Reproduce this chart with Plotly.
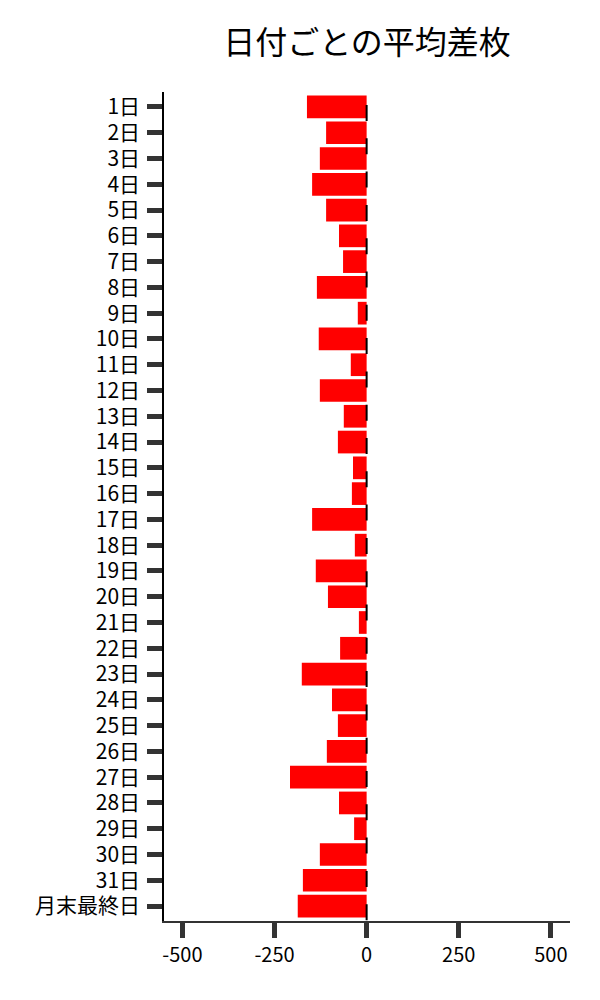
import plotly.graph_objects as go

days = [f"{i}日" for i in range(1, 32)] + ["月末最終日"]
avg_diff = [-162, -110, -127, -148, -110, -75, -64, -135, -24, -130, -43,
            -127, -62, -78, -37, -40, -148, -32, -138, -105, -21,
            -72, -176, -94, -78, -108, -208, -75, -34, -127, -173, -187]
x_ticks = [-500, -250, 0, 250, 500]

FONT = "Noto Sans CJK JP"

fig = go.Figure()
fig.add_trace(go.Bar(
    y=days, x=avg_diff, orientation="h",
    marker=dict(color="#ff0000", line=dict(width=0)),
    width=0.88,
))

fig.add_shape(type="line", xref="x", yref="paper",
              x0=0, x1=0, y0=0.9843, y1=0,
              line=dict(color="black", width=2, dash="16px,17.3px"))

fig.update_layout(
    width=584, height=984,
    margin=dict(l=156, r=22, t=84, b=71),
    paper_bgcolor="white", plot_bgcolor="white",
    showlegend=False,
    font=dict(family=FONT, color="black", size=20),
    title=dict(text="日付ごとの平均差枚", xref="paper", x=0.5, xanchor="center",
               yref="container", y=0.965, yanchor="middle",
               font=dict(family=FONT, size=32, color="black")),
)
fig.update_xaxes(
    range=[-550, 552], tickvals=x_ticks, ticktext=[str(v) for v in x_ticks],
    showgrid=False, zeroline=False,
    showline=True, linecolor="#333333", linewidth=1.5,
    ticks="outside", ticklen=15, tickwidth=5, tickcolor="#333333",
    tickfont=dict(family=FONT, size=20, color="black"),
    ticklabelstandoff=0,
)
fig.update_yaxes(
    type="category", categoryorder="array", categoryarray=days,
    range=[31.58, -0.58],
    showgrid=False, zeroline=False,
    showline=True, linecolor="black", linewidth=1.5,
    ticks="outside", ticklen=15, tickwidth=5, tickcolor="#333333",
    tickfont=dict(family=FONT, size=21, color="black"),
    ticklabelstandoff=3,
)

fig.write_html("out.html")
